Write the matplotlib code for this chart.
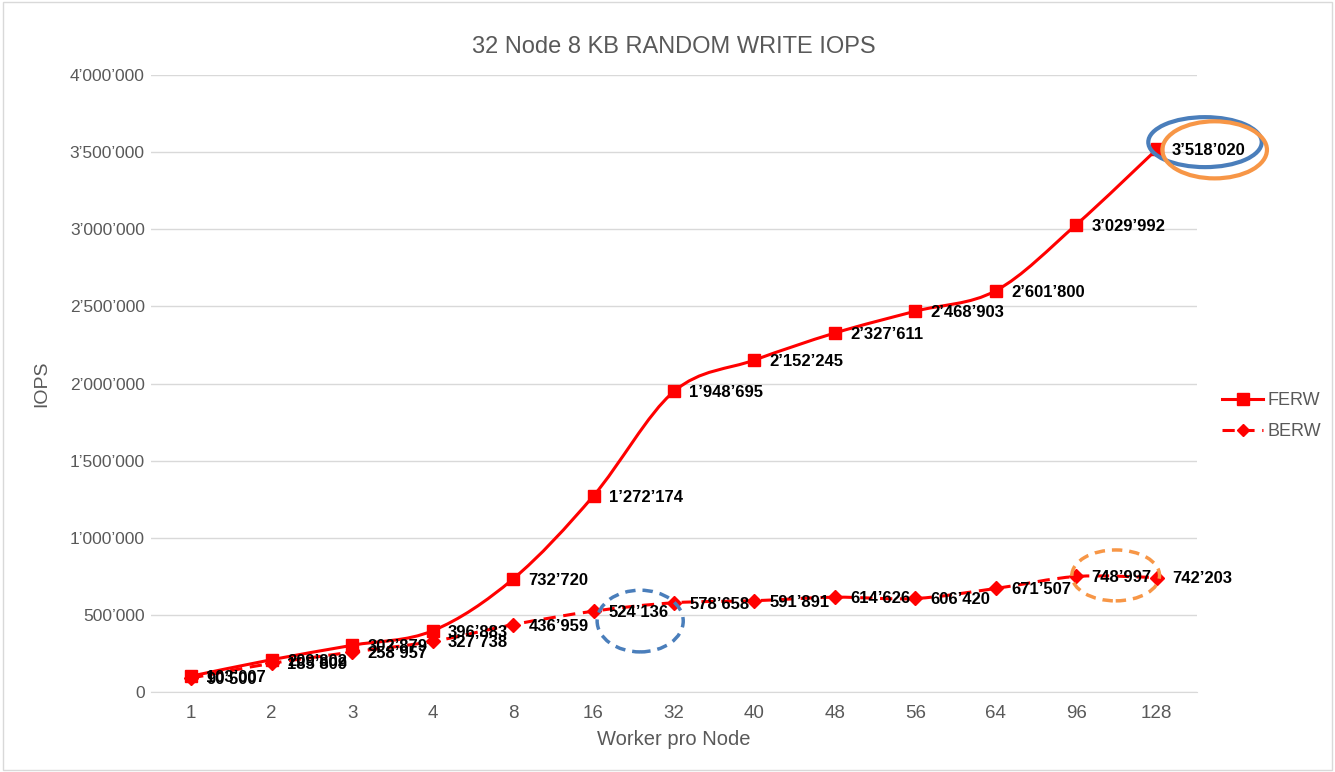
import matplotlib
matplotlib.use("Agg")
import matplotlib.pyplot as plt
from matplotlib.path import Path
from matplotlib.patches import PathPatch, Ellipse
from matplotlib.lines import Line2D
from matplotlib.ticker import FuncFormatter

plt.rcParams['font.family'] = ['Liberation Sans', 'DejaVu Sans']

workers = ["1", "2", "3", "4", "8", "16", "32", "40", "48", "56", "64", "96", "128"]
ferw = [103007, 209802, 302879, 396883, 732720, 1272174, 1948695,
        2152245, 2327611, 2468903, 2601800, 3029992, 3518020]
berw = [90500, 185809, 258957, 327738, 436959, 524136, 578658,
        591891, 614626, 606420, 671507, 748997, 742203]

RED = "#FF0000"
GRAY = "#595959"


def smooth_path(xs, ys):
    """Cubic Bezier through all points (Catmull-Rom style, like spreadsheet smoothing)."""
    n = len(xs)
    verts = [(xs[0], ys[0])]
    codes = [Path.MOVETO]
    for i in range(n - 1):
        x0, y0 = (xs[i - 1], ys[i - 1]) if i > 0 else (xs[i], ys[i])
        x1, y1 = xs[i], ys[i]
        x2, y2 = xs[i + 1], ys[i + 1]
        x3, y3 = (xs[i + 2], ys[i + 2]) if i + 2 < n else (x2, y2)
        c1 = (x1 + (x2 - x0) / 6.0, y1 + (y2 - y0) / 6.0)
        c2 = (x2 - (x3 - x1) / 6.0, y2 - (y3 - y1) / 6.0)
        verts += [c1, c2, (x2, y2)]
        codes += [Path.CURVE4] * 3
    return Path(verts, codes)


def fmt(v):
    return f"{int(v):,}".replace(",", "\u2019")


fig = plt.figure(figsize=(13.35, 7.72), dpi=100)
ax = fig.add_axes([0.1131, 0.1036, 0.7835, 0.7992])
xs = list(range(len(workers)))

ax.add_patch(PathPatch(smooth_path(xs, ferw), fill=False, edgecolor=RED, lw=2.2, zorder=3))
ax.add_patch(PathPatch(smooth_path(xs, berw), fill=False, edgecolor=RED, lw=2.2,
                       linestyle=(0, (4, 2.5)), zorder=3))
ax.plot(xs, ferw, linestyle="none", marker="s", markersize=9, color=RED, zorder=4)
ax.plot(xs, berw, linestyle="none", marker="D", markersize=7, color=RED, zorder=4)

for x, v in zip(xs, ferw):
    ax.annotate(fmt(v), (x, v), xytext=(11, -1), textcoords="offset points",
                ha="left", va="center", fontsize=12, fontweight="bold", color="black", zorder=5)
for x, v in zip(xs, berw):
    ax.annotate(fmt(v), (x, v), xytext=(11, -1), textcoords="offset points",
                ha="left", va="center", fontsize=12, fontweight="bold", color="black", zorder=5)

ax.set_xlim(-0.5, len(workers) - 0.5)
ax.set_ylim(0, 4000000)
ax.set_xticks(xs)
ax.set_xticklabels(workers)
ax.set_yticks(range(0, 4000001, 500000))
ax.yaxis.set_major_formatter(FuncFormatter(lambda v, p: fmt(v)))
ax.tick_params(axis="x", length=0, labelsize=13.5, labelcolor=GRAY, pad=9)
ax.tick_params(axis="y", length=0, labelsize=12.5, labelcolor=GRAY, pad=4.5)
ax.grid(axis="y", color="#D9D9D9", lw=1)
ax.set_axisbelow(True)
for s in ["top", "right", "left"]:
    ax.spines[s].set_visible(False)
ax.spines["bottom"].set_color("#D9D9D9")

ax.set_title("32 Node 8 KB RANDOM WRITE IOPS", fontsize=17, color=GRAY, pad=16)
ax.set_ylabel("IOPS", fontsize=14, color=GRAY, labelpad=14)
ax.set_xlabel("Worker pro Node", fontsize=14.5, color=GRAY, labelpad=6)

# highlight ellipses
ax.add_patch(Ellipse((12.6, 3565000), 1.41, 324000, fill=False, edgecolor="#4A7EBB",
                     lw=3, clip_on=False, zorder=6))
ax.add_patch(Ellipse((12.72, 3515000), 1.30, 370000, fill=False, edgecolor="#F79646",
                     lw=3, clip_on=False, zorder=6))
ax.add_patch(Ellipse((5.58, 460000), 1.07, 400000, fill=False, edgecolor="#4A7EBB",
                     lw=2.5, linestyle=(0, (3, 2)), clip_on=False, zorder=6))
ax.add_patch(Ellipse((11.49, 756000), 1.09, 330000, fill=False, edgecolor="#F79646",
                     lw=2.5, linestyle=(0, (3, 2)), clip_on=False, zorder=6))

handles = [
    Line2D([], [], color=RED, lw=2.2, marker="s", markersize=8),
    Line2D([], [], color=RED, lw=2.2, marker="D", markersize=6, linestyle=(0, (4, 2.5))),
]
fig.legend(handles, ["FERW", "BERW"], loc="center left", bbox_to_anchor=(0.903, 0.461),
           frameon=False, fontsize=13, labelcolor=GRAY, handlelength=2.3,
           labelspacing=0.8, handletextpad=0.25)

border = plt.Rectangle((0.002, 0.002), 0.996, 0.996, transform=fig.transFigure,
                       fill=False, edgecolor="#D9D9D9", lw=1)
fig.patches.append(border)

fig.savefig("out.png", dpi=100)
